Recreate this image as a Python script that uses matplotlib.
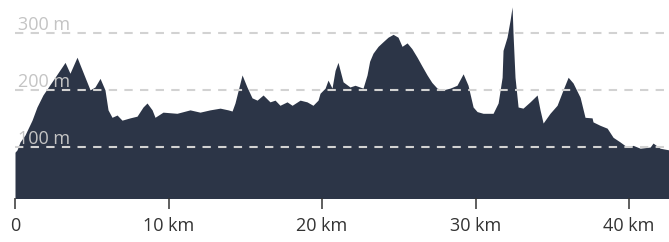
import matplotlib
matplotlib.use('Agg')
import matplotlib.pyplot as plt

# elevation profile, distance in km / elevation in m
dist_km = [0.0, 0.13, 0.33, 0.65, 1.11, 1.43, 1.82, 2.48, 3.06, 3.26, 3.58, 4.04,
           4.56, 4.89, 5.21, 5.54, 5.86, 6.06, 6.32, 6.65, 6.97, 7.49, 7.95, 8.34,
           8.60, 8.93, 9.12, 9.64, 10.55, 11.40, 12.05, 12.70, 13.36, 13.88, 14.14,
           14.33, 14.79, 15.11, 15.44, 15.77, 16.16, 16.61, 16.94, 17.26, 17.72,
           18.05, 18.57, 19.02, 19.41, 19.74, 19.87, 20.20, 20.39, 20.65, 20.85,
           21.04, 21.37, 21.82, 22.15, 22.67, 22.93, 23.10, 23.32, 23.65, 23.97,
           24.30, 24.63, 24.95, 25.21, 25.54, 25.85, 26.19, 26.50, 26.84, 27.15,
           27.49, 27.88, 28.34, 28.79, 29.19, 29.51, 29.84, 30.10, 30.49, 31.14,
           31.47, 31.73, 31.79, 32.05, 32.25, 32.38, 32.44, 32.57, 32.77, 33.09,
           33.55, 34.01, 34.20, 34.40, 34.85, 35.31, 35.70, 36.03, 36.35, 36.81,
           37.13, 37.59, 37.65, 38.11, 38.57, 38.96, 39.41, 39.87, 40.26, 40.72,
           41.37, 41.56, 42.02, 42.61]
elev_m = [91, 95, 109, 121, 147, 170, 191, 217, 240, 248, 229, 257,
          222, 200, 205, 220, 200, 165, 152, 156, 147, 151, 154, 170,
          177, 165, 152, 161, 159, 165, 161, 165, 168, 165, 163,
          177, 226, 205, 186, 182, 191, 179, 182, 173, 179,
          173, 182, 179, 173, 182, 194, 203, 217, 203, 234,
          248, 214, 205, 208, 203, 226, 250, 264, 276, 284,
          292, 297, 292, 276, 282, 272, 257, 242, 226, 213,
          203, 200, 203, 208, 228, 208, 170, 162, 159, 159,
          177, 222, 269, 292, 322, 345, 299, 222, 170, 168,
          179, 191, 165, 142, 159, 173, 200, 222, 212, 187,
          152, 151, 144, 138, 133, 117, 109, 100, 103, 98,
          100, 107, 98, 95]

grid_levels = [100, 200, 300]
grid_labels = ['100 m', '200 m', '300 m']
x_ticks = [0, 10, 20, 30, 40]
x_ticklabels = ['0', '10 km', '20 km', '30 km', '40 km']

plt.rcParams['font.family'] = ['Open Sans', 'DejaVu Sans']

fig = plt.figure(figsize=(6.69, 2.42), dpi=100)
ax = fig.add_axes([15 / 669, 44 / 242, 654 / 669, 198 / 242])

ax.fill_between(dist_km, elev_m, 0, color='#2c3547', lw=0, zorder=1)

for lvl, lab in zip(grid_levels, grid_labels):
    ax.axhline(lvl, color='#d2d2d2', lw=1.5, ls=(0, (4, 3.5)), zorder=2)
    ax.text(0.2, lvl + 5, lab, color='#c4c4c4', fontsize=13, ha='left',
            va='baseline', zorder=3)

ax.set_xlim(0, 42.6)
ax.set_ylim(11, 357)

ax.set_xticks(x_ticks)
ax.set_xticklabels(x_ticklabels)
ax.set_yticks([])
ax.tick_params(axis='x', length=8, width=1.1, color='#333333', labelsize=13,
               labelcolor='#333333', pad=6)
for s in ['top', 'right', 'left', 'bottom']:
    ax.spines[s].set_visible(False)

fig.savefig('out.png', dpi=100)
